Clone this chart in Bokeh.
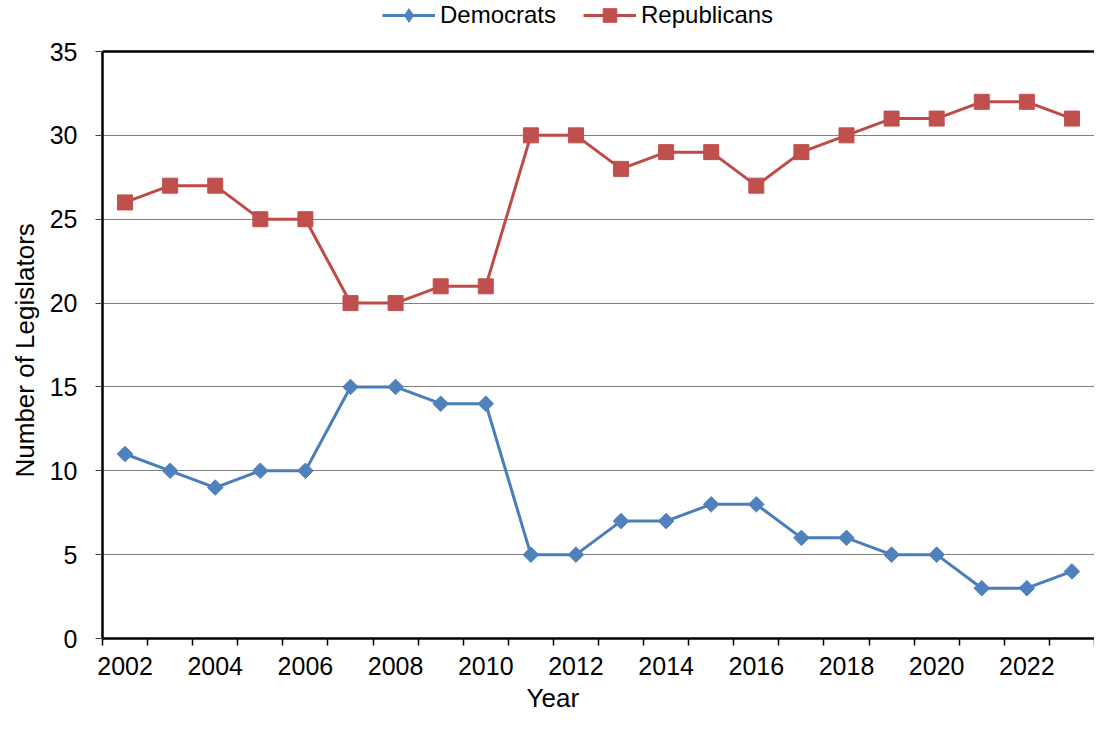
import math
from bokeh.plotting import figure
from bokeh.models import FixedTicker, Span, Legend, LegendItem, Title
from bokeh.embed import file_html
from bokeh.resources import INLINE

# ---- data ----
years = [2002, 2003, 2004, 2005, 2006, 2007, 2008, 2009, 2010, 2011, 2012,
         2013, 2014, 2015, 2016, 2017, 2018, 2019, 2020, 2021, 2022, 2023]
democrats = [11, 10, 9, 10, 10, 15, 15, 14, 14, 5, 5, 7, 7, 8, 8, 6, 6, 5, 5, 3, 3, 4]
republicans = [26, 27, 27, 25, 25, 20, 20, 21, 21, 30, 30, 28, 29, 29, 27, 29, 30, 31, 31, 32, 32, 31]
x_tick_labels = [2002, 2004, 2006, 2008, 2010, 2012, 2014, 2016, 2018, 2020, 2022]
y_ticks = [0, 5, 10, 15, 20, 25, 30, 35]
series_names = ["Democrats", "Republicans"]
x_title = "Year"
y_title = "Number of Legislators"

FONT = "Liberation Sans"
BLUE_LINE = "#4A7EBB"
BLUE_FILL = "#4F81BD"
RED_LINE = "#BE4B48"
RED_FILL = "#C0504D"

# layout (pixels)
W, H = 1094, 719
BORDER_L, BORDER_B = 101, 81
AXIS_TOP_PX = 51          # pixel row of the top of the axis (value 35)
frame_h = H - BORDER_B
y_max = y_ticks[-1]
y_top = y_max + AXIS_TOP_PX * y_max / (frame_h - AXIS_TOP_PX)   # headroom for the legend

p = figure(width=W, height=H, output_backend="svg", toolbar_location=None,
           x_range=(years[0] - 0.5, years[-1] + 0.5), y_range=(0, y_top),
           min_border_left=BORDER_L, min_border_right=0, min_border_top=0, min_border_bottom=BORDER_B)
p.outline_line_color = None
p.background_fill_color = "white"
p.border_fill_color = "white"

# grid
p.xgrid.grid_line_color = None
p.ygrid.grid_line_color = "#808080"
p.ygrid.grid_line_width = 1
p.ygrid.ticker = FixedTicker(ticks=y_ticks[:-1])

# top frame line
p.add_layout(Span(location=y_max, dimension="width", line_color="black", line_width=2.5))

# x axis
boundaries = [y - 0.5 for y in years] + [years[-1] + 0.5]
p.xaxis.ticker = FixedTicker(ticks=x_tick_labels, minor_ticks=boundaries)
p.xaxis.major_tick_line_color = None
p.xaxis.major_tick_out = 7
p.xaxis.major_tick_in = 0
p.xaxis.minor_tick_line_color = "black"
p.xaxis.minor_tick_line_width = 1.5
p.xaxis.minor_tick_out = 7
p.xaxis.minor_tick_in = 0
p.xaxis.axis_line_color = "black"
p.xaxis.axis_line_width = 2.5
p.xaxis.major_label_standoff = 11
p.xaxis.major_label_text_font = FONT
p.xaxis.major_label_text_font_size = "25px"
p.xaxis.major_label_text_color = "black"

# y axis
p.yaxis.ticker = FixedTicker(ticks=y_ticks)
p.yaxis.bounds = (0, y_max)
p.yaxis.minor_tick_line_color = None
p.yaxis.major_tick_line_color = "#404040"
p.yaxis.major_tick_line_width = 1
p.yaxis.major_tick_out = 7
p.yaxis.major_tick_in = 0
p.yaxis.axis_line_color = "black"
p.yaxis.axis_line_width = 2.5
p.yaxis.major_label_standoff = 18
p.yaxis.major_label_text_font = FONT
p.yaxis.major_label_text_font_size = "25px"
p.yaxis.major_label_text_color = "black"

# axis titles as Titles so they can be positioned like the reference
p.add_layout(Title(text=x_title, align="left", offset=424, standoff=6,
                   text_font=FONT, text_font_size="26px", text_font_style="normal",
                   text_color="black"), "below")
p.add_layout(Title(text=y_title, align="left", offset=161, standoff=14,
                   text_font=FONT, text_font_size="26px", text_font_style="normal",
                   text_color="black"), "left")

# series
d_line = p.line(years, democrats, line_color=BLUE_LINE, line_width=3)
d_pts = p.scatter(years, democrats, marker="square", angle=math.pi / 4, size=11,
                  fill_color=BLUE_FILL, line_color=BLUE_FILL, line_width=1)
r_line = p.line(years, republicans, line_color=RED_LINE, line_width=3)
r_pts = p.scatter(years, republicans, marker="square", size=15,
                  fill_color=RED_FILL, line_color=RED_FILL, line_width=1)
# legend-only key marker (the legend cannot rotate the square)
d_key = p.scatter(years, democrats, marker="diamond", size=14, visible=False,
                  fill_color=BLUE_FILL, line_color=BLUE_FILL, line_width=1)

GLYPH_H = 34
legend = Legend(items=[LegendItem(label=series_names[0], renderers=[d_line, d_key]),
                       LegendItem(label=series_names[1], renderers=[r_line, r_pts])],
                orientation="horizontal", location=(280, frame_h - 32),
                glyph_width=53, glyph_height=GLYPH_H, label_height=GLYPH_H, label_standoff=5,
                spacing=27, padding=0, margin=0, border_line_color=None, background_fill_alpha=0,
                label_text_font=FONT, label_text_font_size="24px", label_text_color="black")
p.add_layout(legend, "center")

open("out.html", "w").write(file_html(p, INLINE))
